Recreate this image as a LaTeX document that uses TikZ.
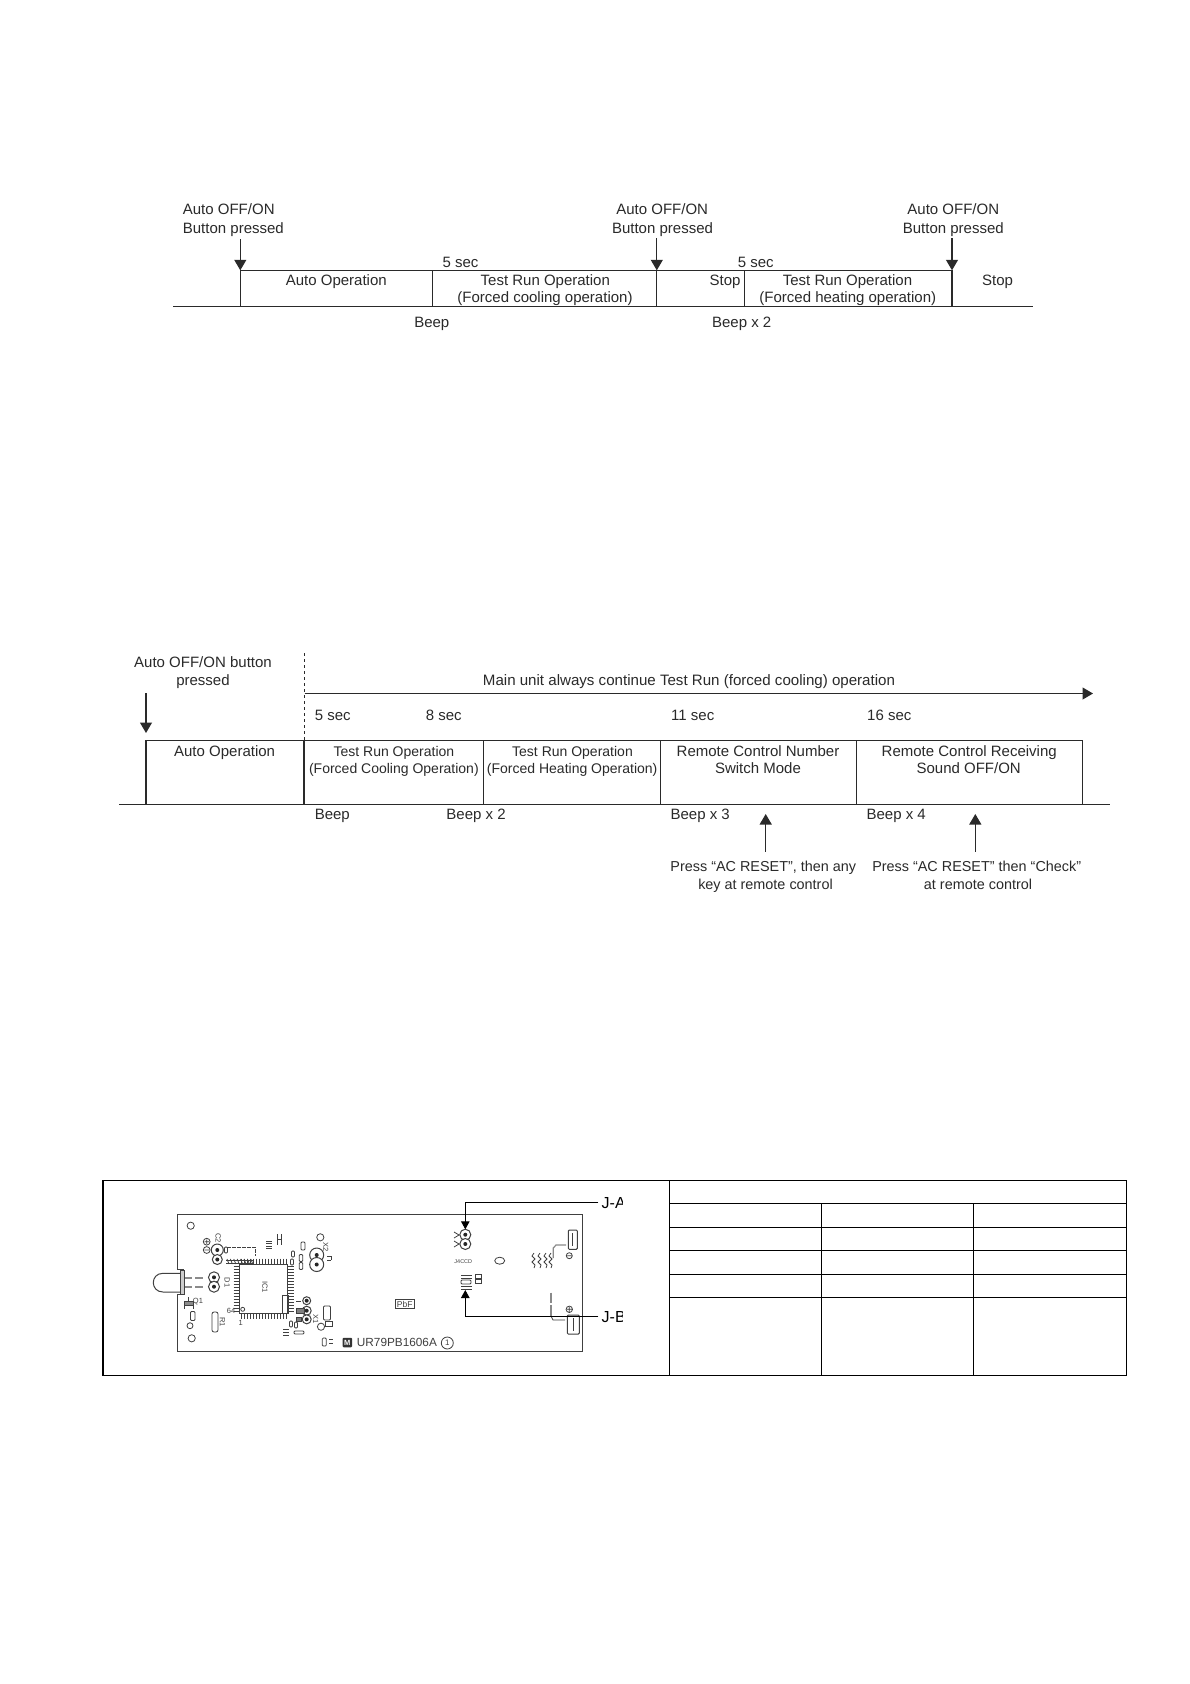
\documentclass[tikz,border=0pt]{standalone}
\usepackage{fontspec}
\setmainfont{Liberation Sans}
\usetikzlibrary{arrows.meta}
\definecolor{ink}{HTML}{2A2A2A}
\definecolor{pcb}{HTML}{404040}
\definecolor{pcblt}{HTML}{8A8A8A}
\tikzset{
  lbl/.style={inner sep=0pt,text height=10.8pt,text depth=0pt,text=ink,font=\fontsize{15}{15}\selectfont},
  lblw/.style={lbl,font=\fontsize{15.1}{15}\selectfont},
  lblm/.style={lbl,font=\fontsize{14.4}{15}\selectfont},
  lbls/.style={lbl,font=\fontsize{14}{15}\selectfont},
  lft/.style={anchor=west},
  rule/.style={draw=ink,line width=1.1pt},
  arr/.style={rule,-{Triangle[length=10.5pt,width=12pt]}},
  frame/.style={draw=black,line width=1.3pt},
  trace/.style={draw=black,line width=.9pt},
  trarr/.style={trace,-{Triangle[length=8pt,width=8.5pt]}},
  pcbl/.style={draw=pcb,line width=.8pt},
  pcbt/.style={draw=pcb,line width=1pt},
  pcbg/.style={draw=pcblt,line width=1.8pt},
  tiny/.style={inner sep=0pt,text=pcb,font=\fontsize{7.5}{8}\selectfont},
}
\newcommand{\pcbpad}[3]{\draw[pcbl,line width=1pt,fill=white] (#1,#2) circle (#3);\fill[black!85] (#1,#2) circle (2);}
\newcommand{\pcbres}[3]{\draw[pcbl,rounded corners=1pt,fill=white] (#1-#3/2,#2-#3) rectangle (#1+#3/2,#2+#3);}
\begin{document}
\begin{tikzpicture}[x=1pt,y=-1pt]
\useasboundingbox[fill=white] (0,0) rectangle (1190,1684);

% ---------- top timing chart
\coordinate (tA) at (240.3,270.3);
\coordinate (tB) at (432.3,270.3);
\coordinate (tC) at (656.8,270.3);
\coordinate (tD) at (744.7,270.3);
\coordinate (tE) at (952,270.3);
\coordinate (bL) at (173,306.7);
\coordinate (bA) at (240.3,306.7);
\coordinate (bB) at (432.3,306.7);
\coordinate (bC) at (656.8,306.7);
\coordinate (bD) at (744.7,306.7);
\coordinate (bE) at (952,306.7);
\coordinate (bR) at (1032.7,306.7);
\draw[rule] (tA) -- (tE);
\draw[rule] (bL) -- (bR);
\draw[rule] (tA) -- (bA);
\draw[rule] (tB) -- (bB);
\draw[rule] (tC) -- (bC);
\draw[rule] (tD) -- (bD);
\draw[rule] (tE) -- (bE);
\coordinate (pA) at (240.3,239);
\coordinate (pC) at (656.8,238.3);
\coordinate (pE) at (952,238.3);
\draw[arr] (pA) -- (tA);
\draw[arr] (pC) -- (tC);
\draw[arr] (pE) -- (tE);
\node[lbl,lft] (n1a) at (182.7,209.3) {Auto OFF/ON};
\node[lbl,lft] (n1b) at (182.7,227.7) {Button pressed};
\node[lbl] (n2a) at (662.2,209.3) {Auto OFF/ON};
\node[lbl] (n2b) at (662.5,227.7) {Button pressed};
\node[lbl] (n3a) at (953.3,209.3) {Auto OFF/ON};
\node[lbl] (n3b) at (953.3,227.7) {Button pressed};
\node[lbl] (s5a) at (460.5,262.3) {5 sec};
\node[lbl] (s5b) at (755.8,262.3) {5 sec};
\node[lbl] (opa) at (336.3,280.4) {Auto Operation};
\node[lbl] (opb) at (545.3,280.4) {Test Run Operation};
\node[lbl] (opc) at (545,296.7) {(Forced cooling operation)};
\node[lbl] (stp) at (725,280.4) {Stop};
\node[lbl] (opd) at (847.5,280.4) {Test Run Operation};
\node[lbl] (ope) at (847.8,296.7) {(Forced heating operation)};
\node[lbl] (stq) at (997.5,280.4) {Stop};
\node[lbl] (bp1) at (431.8,322) {Beep};
\node[lbl] (bp2) at (741.7,322) {Beep x 2};

% ---------- middle timing chart
\coordinate (mA) at (146,740.3);
\coordinate (mB) at (304,740.3);
\coordinate (mC) at (483.3,740.3);
\coordinate (mD) at (660.6,740.3);
\coordinate (mE) at (856.3,740.3);
\coordinate (mF) at (1082.7,740.3);
\coordinate (lL) at (119,804.3);
\coordinate (lA) at (146,804.3);
\coordinate (lB) at (304,804.3);
\coordinate (lC) at (483.3,804.3);
\coordinate (lD) at (660.6,804.3);
\coordinate (lE) at (856.3,804.3);
\coordinate (lF) at (1082.7,804.3);
\coordinate (lR) at (1110,804.3);
\draw[rule] (mA) -- (mF);
\draw[rule] (lL) -- (lR);
\draw[rule] (mA) -- (lA);
\draw[rule] (mB) -- (lB);
\draw[rule] (mC) -- (lC);
\draw[rule] (mD) -- (lD);
\draw[rule] (mE) -- (lE);
\draw[rule] (mF) -- (lF);
\coordinate (dT) at (304,653);
\draw[draw=ink,line width=1pt,dash pattern=on 3pt off 3pt] (dT) -- (mB);
\coordinate (hS) at (304.6,693.5);
\coordinate (hE) at (1093,693.5);
\draw[arr] (hS) -- (hE);
\coordinate (dS) at (146,693);
\coordinate (dE) at (146,733);
\draw[arr] (dS) -- (dE);
\coordinate (uS1) at (765.7,851.7);
\coordinate (uE1) at (765.7,814);
\coordinate (uS2) at (975.3,851.7);
\coordinate (uE2) at (975.3,814);
\draw[arr] (uS1) -- (uE1);
\draw[arr] (uS2) -- (uE2);
\node[lbl] (m1) at (203,662.4) {Auto OFF/ON button};
\node[lbl] (m2) at (203,680) {pressed};
\node[lblw] (m3) at (689,680) {Main unit always continue Test Run (forced cooling) operation};
\node[lbl,lft] (m4) at (314.6,715) {5 sec};
\node[lbl,lft] (m5) at (425.7,715) {8 sec};
\node[lbl,lft] (m6) at (671,715) {11 sec};
\node[lbl,lft] (m7) at (867,715) {16 sec};
\node[lbl] (m8) at (224.6,750.6) {Auto Operation};
\node[lbls] (m9) at (393.9,751) {Test Run Operation};
\node[lbls] (m10) at (393.9,768.3) {(Forced Cooling Operation)};
\node[lbls] (m11) at (572.5,751) {Test Run Operation};
\node[lbls] (m12) at (572.2,768.3) {(Forced Heating Operation)};
\node[lbl] (m13) at (758,750.7) {Remote Control Number};
\node[lbl] (m14) at (758,767.7) {Switch Mode};
\node[lbl] (m15) at (969.2,750.7) {Remote Control Receiving};
\node[lbl] (m16) at (968.7,767.7) {Sound OFF/ON};
\node[lbl,lft] (m17) at (314.6,814.3) {Beep};
\node[lbl,lft] (m18) at (446.2,814.3) {Beep x 2};
\node[lbl,lft] (m19) at (670.4,814) {Beep x 3};
\node[lbl,lft] (m20) at (866.4,814) {Beep x 4};
\node[lblm] (m21) at (763.3,866) {Press “AC RESET”, then any};
\node[lblm] (m22) at (765.5,884) {key at remote control};
\node[lblm] (m23) at (976.7,866) {Press “AC RESET” then “Check”};
\node[lblm] (m24) at (978,884) {at remote control};

% ---------- bottom frame and table
\draw[frame] (103,1180.3) rectangle (1126.3,1375.3);
\draw[frame] (669.3,1180.3) -- (669.3,1375.3);
\foreach \yy in {1203.3,1227.3,1250.3,1274.3,1297.3}
  \draw[frame] (669.3,\yy) -- (1126.3,\yy);
\draw[frame] (821.7,1203.3) -- (821.7,1375.3);
\draw[frame] (973.3,1203.3) -- (973.3,1375.3);

% ---------- board outline
\draw[pcbt] (177.3,1269.3) -- (177.3,1214) -- (582.3,1214) -- (582.3,1351) -- (177.3,1351) -- (177.3,1294);
\draw[pcbt] (177.3,1269.3) -- (183.5,1269.3) (177.3,1294) -- (183.5,1294);
% LED
\draw[pcbl,line width=1pt] (180,1273.3) -- (163,1273.3) .. controls (156.5,1273.3) and (153.3,1278) .. (153.3,1282.6) .. controls (153.3,1287.2) and (156.5,1292) .. (163,1292) -- (180,1292);
\draw[pcbl,line width=1pt,fill=black!20] (180,1270) rectangle (184,1294);
\draw[pcbg] (185,1278) -- (192,1278) (195,1278) -- (203,1278) (185,1287) -- (192,1287) (195,1287) -- (203,1287);
% holes
\draw[pcbl] (190.7,1225.7) circle (3.6) (191.7,1338.3) circle (3.6) (320.3,1237.3) circle (3.6) (190,1325.7) circle (3) (321,1326.7) circle (3.6);
\draw[pcbl] (499.7,1260.7) ellipse (5 and 3.5);
% IC1
\draw[pcbl] (239.3,1264.3) rectangle (287.7,1313.3);
\draw[pcbl] (242.7,1309.3) circle (2);
\foreach \i in {0,...,15}{
  \draw[pcbl] (241+\i*3,1258.5) -- (241+\i*3,1264);
  \draw[pcbl] (241+\i*3,1313.5) -- (241+\i*3,1318.5);
  \draw[pcbl] (233.5,1266+\i*3) -- (239,1266+\i*3);
  \draw[pcbl] (288,1266+\i*3) -- (294,1266+\i*3);
}
\node[tiny,rotate=-90] (ic1) at (265,1287) {IC1};
\node[tiny] (p64) at (231,1310.7) {64};
\node[tiny] (p1) at (240.7,1322.7) {1};
% C2 group
\pcbpad{217.3}{1250}{6}
\pcbpad{217.3}{1259.5}{5}
\draw[pcbl] (206.7,1241.7) circle (3.4) (204.5,1241.7) -- (208.9,1241.7) (206.7,1239.5) -- (206.7,1243.9);
\draw[pcbl] (206.7,1250) circle (3.4) (204.5,1250) -- (208.9,1250);
\node[tiny,rotate=-90] (c2) at (218.3,1238.3) {C2};
\draw[pcbl,dash pattern=on 4pt off 1pt] (227,1247.3) -- (255,1247.3) -- (255,1256);
\draw[pcbl] (226,1260) -- (253,1260) (226,1263) -- (253,1263);
\foreach \i in {0,...,7} \draw[pcbl] (227+\i*3.4,1259) -- (229+\i*3.4,1264);
\pcbres{226}{1250}{3}
% small parts top centre
\foreach \i in {0,...,3} \draw[pcbl] (266,1241+\i*2.5) -- (272,1241+\i*2.5);
\draw[pcbl] (277,1234) -- (277,1245) (281,1234) -- (281,1245) (277,1239.5) -- (281,1239.5);
% X2 group
\pcbpad{316.7}{1255}{7}
\pcbpad{316.7}{1264.5}{7}
\node[tiny,rotate=-90] (x2) at (325.7,1247.3) {X2};
\pcbres{303}{1246}{4}
\pcbres{301}{1258}{3.5}
\pcbres{301}{1266}{3.5}
\pcbres{293}{1254}{3}
\pcbres{292}{1262}{3}
\draw[pcbl] (327,1256) -- (331,1256) (327,1260) -- (331,1260) (331,1256) -- (331,1260);
% D1
\pcbpad{214}{1277.3}{5.5}
\pcbpad{214}{1286.7}{5.5}
\node[tiny,rotate=-90] (d1) at (227.3,1282.7) {D1};
% Q1 / R1
\draw[pcbl,fill=black!45] (184,1301) rectangle (193,1305);
\draw[pcbl] (188,1297) -- (188,1301) (184,1305) -- (184,1309) (193,1305) -- (193,1309);
\node[tiny] (q1) at (198,1302) {Q1};
\pcbres{192.7}{1316}{4.5}
\draw[pcbl,rounded corners=2pt,fill=white] (212,1312) rectangle (218,1332);
\node[tiny,rotate=-90] (r1) at (222.5,1322) {R1};
% lower right of IC
\draw[pcbl] (282.3,1295.7) rectangle (288,1313);
\pcbpad{306.7}{1300.7}{4}
\pcbpad{306.7}{1310.7}{4.5}
\pcbpad{306.7}{1319.3}{4.5}
\draw[pcbl,fill=black!50] (296,1308) rectangle (304,1313);
\draw[pcbl,fill=black!50] (296,1317) rectangle (301,1321);
\draw[pcbl] (296,1301) -- (301,1301);
\node[tiny,rotate=-90] (x1) at (315.7,1319) {X1};
\pcbres{327}{1313}{7}
\pcbres{291}{1324}{3}
\pcbres{296}{1325}{3}
\draw[pcbl,rounded corners=1pt] (294,1331) rectangle (304,1334);
\foreach \i in {0,...,2} \draw[pcbl] (283,1329+\i*3) -- (289,1329+\i*3);
\draw[pcbl] (325,1321) rectangle (332,1326);
\pcbres{324.3}{1342}{4}
\draw[pcbl] (329,1339) -- (333,1339) (329,1343) -- (333,1343);
% marking
\node[draw=pcb,line width=.8pt,inner sep=1pt,minimum width=19.3pt,minimum height=8.3pt,text=pcb,font=\fontsize{8.5}{9}\selectfont] (pbf) at (404.7,1304) {PbF};
\node[fill=black!80,minimum size=9.5pt,inner sep=0pt,text=white,rounded corners=1pt,font=\bfseries\fontsize{7.5}{8}\selectfont] (logo) at (347.3,1342.5) {M};
\node[inner sep=0pt,anchor=west,text=pcb,font=\fontsize{11.8}{12}\selectfont] (code) at (356.7,1342.7) {UR79PB1606A};
\node[draw=pcb,line width=.8pt,circle,inner sep=0pt,minimum size=12pt,text=pcb,font=\fontsize{8}{9}\selectfont] (rev) at (447.3,1343) {1};
% J4 pads
\pcbpad{465.3}{1234.7}{5.5}
\pcbpad{465.3}{1244}{5.5}
\draw[pcbl] (454,1232) -- (459,1235) -- (454,1238) (454,1241) -- (459,1244) -- (454,1247);
\node[tiny,font=\fontsize{5.5}{6}\selectfont] (j4) at (463.3,1261.7) {J4CCD};
\foreach \yy in {1275,1278.5,1286,1289} \draw[pcbl] (461,\yy) -- (472,\yy);
\draw[pcbl,rounded corners=1pt] (461,1280) rectangle (471,1284);
\foreach \yy in {1276,1281} \draw[pcbl] (475,\yy-2) rectangle (481,\yy+2);
% right connectors
\draw[pcbl,line width=1pt,rounded corners=1pt] (568.3,1230) rectangle (577.3,1249.3);
\draw[pcbl,line width=1.4pt] (572.5,1233) -- (572.5,1246);
\draw[pcbl] (569.3,1255.7) circle (3) (567.3,1255.7) -- (571.3,1255.7);
\draw[pcbg,line width=1.2pt] (566,1245) -- (556,1245) -- (553.3,1248) -- (553.3,1258);
\foreach \xx in {534,540,546,551}{
  \draw[pcbl] (\xx,1253) -- (\xx-2,1256) -- (\xx+1,1259) -- (\xx-2,1262) -- (\xx+1,1265) -- (\xx,1268);
}
\draw[pcbl,line width=1pt,rounded corners=1pt] (567.3,1315) rectangle (579.3,1334);
\draw[pcbl,line width=1.4pt] (573.3,1318) -- (573.3,1331);
\draw[pcbl] (569.3,1309.3) circle (3.2) (567.1,1309.3) -- (571.5,1309.3) (569.3,1307.1) -- (569.3,1311.5);
\draw[pcbg] (551,1292.7) -- (551,1303) (551,1305) -- (551,1316);
\draw[pcbl] (551,1316) -- (553,1320) -- (565,1320);

% ---------- J-A, J-B leaders (picture is cut at the right)
\begin{scope}
\clip (590,1190) rectangle (622.8,1330);
\node[lbl,lft,text=black,text height=11.5pt,font=\fontsize{16}{16}\selectfont] (ja) at (601.5,1203) {J-A};
\node[lbl,lft,text=black,text height=11.5pt,font=\fontsize{16}{16}\selectfont] (jb) at (601.5,1316.7) {J-B};
\end{scope}
\coordinate (jaC) at (465.3,1202.3);
\coordinate (jaT) at (465.3,1229.3);
\coordinate (jbC) at (465.3,1316.7);
\coordinate (jbT) at (465.3,1290);
\coordinate (jaS) at (598.3,1202.3);
\coordinate (jbS) at (598.3,1316.7);
\draw[trarr] (jaS) -- (jaC) -- (jaT);
\draw[trarr] (jbS) -- (jbC) -- (jbT);
\end{tikzpicture}
\end{document}
